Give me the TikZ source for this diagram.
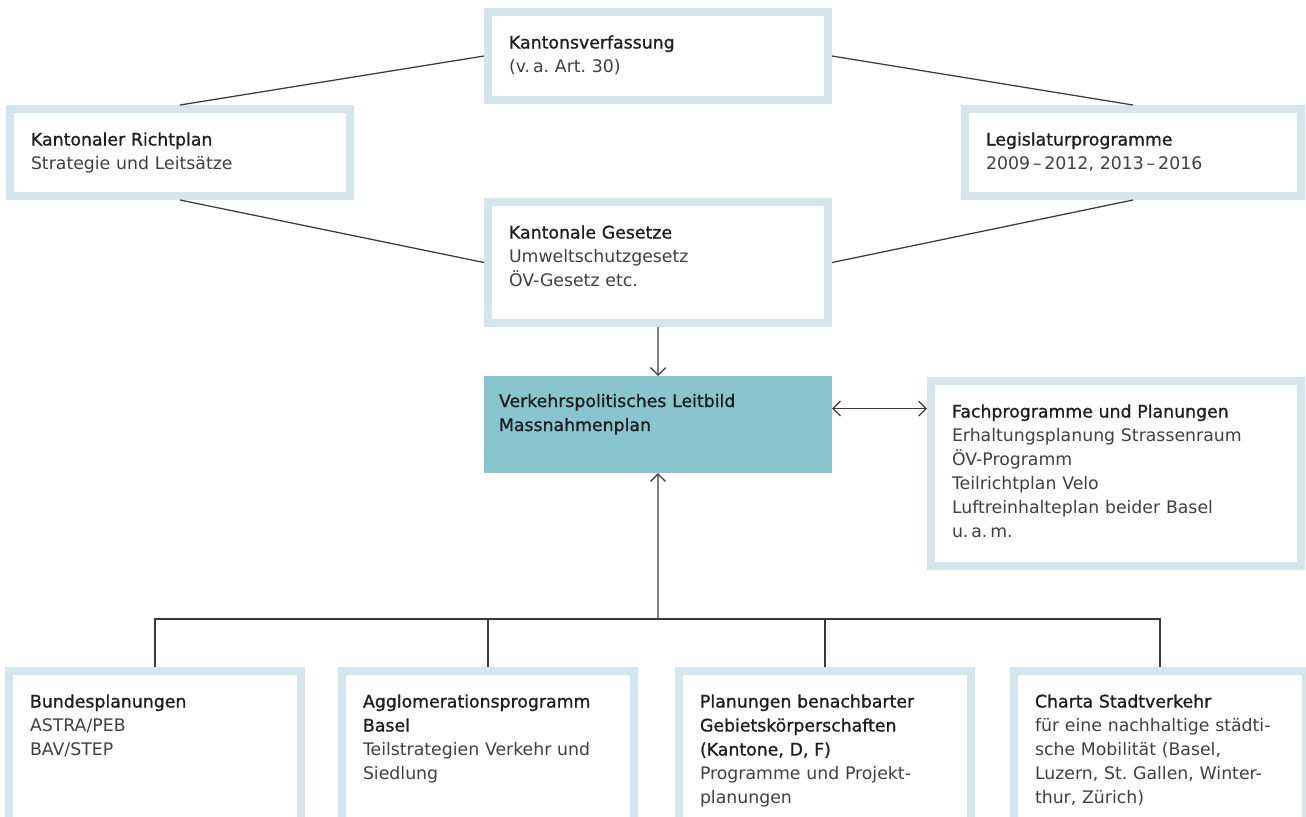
\documentclass[tikz,border=0pt]{standalone}
\usepackage{fontspec}
\setmainfont{DejaVu Sans}
\newfontfamily\headfont[FakeBold=1]{DejaVu Sans}
\usepackage{xcolor}
\usepackage{tikz}
\usetikzlibrary{arrows.meta, positioning}

\definecolor{frameblue}{HTML}{D2E6EB}
\definecolor{leadteal}{HTML}{8AC4CE}
\definecolor{linegray}{HTML}{3A3A3A}
\definecolor{headgray}{HTML}{1E1E1E}
\definecolor{bodygray}{HTML}{404040}
\newcommand{\hd}[1]{{\headfont\color{headgray}#1}}

\begin{document}
\begin{tikzpicture}[
    x=0.2mm, y=-0.2mm,
    every node/.style={font=\fontsize{9.85pt}{13.66pt}\selectfont},
    panel/.style={draw=frameblue, line width=1.6mm, fill=white, anchor=north west, outer sep=0.8mm, inner xsep=4.2mm, inner ysep=4.7mm, text height=2.6mm, align=left, text=bodygray},
    lead/.style={fill=leadteal, anchor=north west, outer sep=0pt, inner xsep=3mm, inner ysep=3.6mm, text height=2.6mm, text depth=9.6mm, text width=63.6mm, align=left, text=headgray},
    link/.style={draw=linegray, line width=0.25mm},
    arrow/.style={link, ->, >={Straight Barb[length=1.5mm,width=3mm]}},
    biarrow/.style={link, <->, >={Straight Barb[length=1.5mm,width=3mm]}},
]
\useasboundingbox (0,0) rectangle (1306,816);

% Kantonsverfassung
\node[panel, text width=59.6mm, text depth=5.6mm] (verf) at (484,8) {\hd{Kantonsverfassung}\\(v.\,a.\ Art.~30)};

% Richtplan
\node[panel, text width=59.6mm, text depth=5.4mm] (richt) at (6,105) {\hd{Kantonaler Richtplan}\\Strategie und Leitsätze};

% Legislatur
\node[panel, text width=58.8mm, text depth=5.4mm] (legis) at (961,105) {\hd{Legislaturprogramme}\\2009\,--\,2012, 2013\,--\,2016};

% Gesetze
\node[panel, text width=59.6mm, text depth=12.2mm] (gesetze) at (484,198) {\hd{Kantonale Gesetze}\\Umweltschutzgesetz\\ÖV-Gesetz etc.};

% Leitbild
\node[lead] (leitbild) at (484,376) {\headfont Verkehrspolitisches Leitbild\\\headfont Massnahmenplan};

% Fachprogramme
\node[panel, text width=65.6mm, text depth=25mm] (fach) at (927,377) {\hd{Fachprogramme und Planungen}\\Erhaltungsplanung Strassenraum\\ÖV-Programm\\Teilrichtplan Velo\\Luftreinhalteplan beider Basel\\u.\,a.\,m.};

% Untere Reihe
\node[panel, text width=50mm, text depth=25mm] (bund) at (5,667) {\hd{Bundesplanungen}\\ASTRA/PEB\\BAV/STEP};
\node[panel, text width=50mm, text depth=25mm] (agglo) at (338,667) {\hd{Agglomerationsprogramm}\\\hd{Basel}\\Teilstrategien Verkehr und\\Siedlung};
\node[panel, text width=50mm, text depth=25mm] (nachbar) at (675,667) {\hd{Planungen benachbarter}\\\hd{Gebietskörperschaften}\\\hd{(Kantone, D, F)}\\Programme und Projekt-\\planungen};
\node[panel, text width=50mm, text depth=25mm] (charta) at (1010,667) {\hd{Charta Stadtverkehr}\\für eine nachhaltige städti-\\sche Mobilität (Basel,\\Luzern, St.\ Gallen, Winter-\\thur, Zürich)};

\coordinate (bus) at (658,619);

% Verbindungen
\draw[link] (verf.west) -- (richt.north);
\draw[link] (verf.east) -- (legis.north);
\draw[link] (richt.south) -- (gesetze.west);
\draw[link] (legis.south) -- (gesetze.east);
\draw[arrow] (gesetze.south) -- (leitbild.north);
\draw[biarrow] ([yshift=3.2mm]leitbild.east) -- ([yshift=3.2mm]leitbild.east -| fach.west);
\draw[arrow] (bus) -- (leitbild.south);
\draw[link] (bund.north) |- (bus) -| (charta.north);
\draw[link] (agglo.north) -- (agglo.north |- bus);
\draw[link] (nachbar.north) -- (nachbar.north |- bus);

\end{tikzpicture}
\end{document}
